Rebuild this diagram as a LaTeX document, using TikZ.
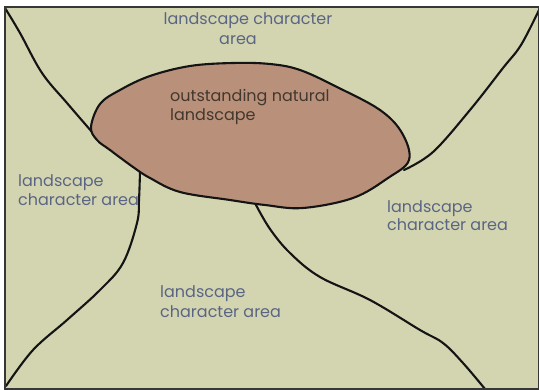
\documentclass[tikz,border=0pt]{standalone}
\usepackage{fontspec}
\setmainfont{Poppins}
\definecolor{bgkhaki}{HTML}{D3D5B1}
\definecolor{ovbrown}{HTML}{B9917B}
\definecolor{lblue}{HTML}{5A6584}
\definecolor{ldark}{HTML}{43372E}
\definecolor{linek}{HTML}{141414}
\tikzset{
  border/.style={draw=linek!85, line width=2pt},
  edge/.style={draw=linek, line width=2.1pt, line cap=round, line join=round},
  lab/.style={text=lblue, font=\fontsize{16}{18}\selectfont, inner sep=0pt, anchor=base west},
  inlab/.style={lab, text=ldark},
}
\begin{document}
\begin{tikzpicture}[x=1pt,y=-1pt]
\useasboundingbox (0,0) rectangle (539,390);
\fill[white] (0,0) rectangle (539,390);
\fill[bgkhaki] (5,7) rectangle (539,389);
% boundaries
\draw[edge] plot[smooth, tension=0.6] coordinates {(5,8) (20,33) (42,73) (67,103) (92,132)};
\draw[edge] plot[smooth, tension=0.6] coordinates {(140,172) (139,200) (137,223) (123,263) (100,290) (67,320) (33,350) (6,386)};
\draw[edge] plot[smooth, tension=0.6] coordinates {(256,205) (270,229) (290,253) (320,277) (370,300) (420,330) (443,343) (463,363) (485,389)};
\draw[edge] plot[smooth, tension=0.6] coordinates {(539,10) (521,45) (503,68) (470,110) (433,152) (404,170)};
% outstanding natural landscape
\filldraw[edge, fill=ovbrown] plot[smooth cycle, tension=0.6] coordinates {
  (91,127) (100,104) (120,90) (150,76) (190,66) (233,63) (270,64) (300,70) (337,87) (380,110) (402,133) (409,160)
  (388,178) (353,198) (303,208) (265,205) (230,200) (180,192) (150,178) (133,167) (110,150) (97,140)};
\draw[border] (5,7) rectangle (539,389);
% labels
\node[lab, anchor=base] (t1) at (248,25) {landscape character};
\node[lab, anchor=base] (t2) at (238,45) {area};
\node[inlab] (o1) at (170,102) {outstanding natural};
\node[inlab] (o2) at (170,121) {landscape};
\node[lab] (l1) at (18,187) {landscape};
\node[lab] (l2) at (18,206) {character area};
\node[lab] (r1) at (387,213) {landscape};
\node[lab] (r2) at (387,231) {character area};
\node[lab] (b1) at (160,298) {landscape};
\node[lab] (b2) at (160,318) {character area};
\end{tikzpicture}
\end{document}
